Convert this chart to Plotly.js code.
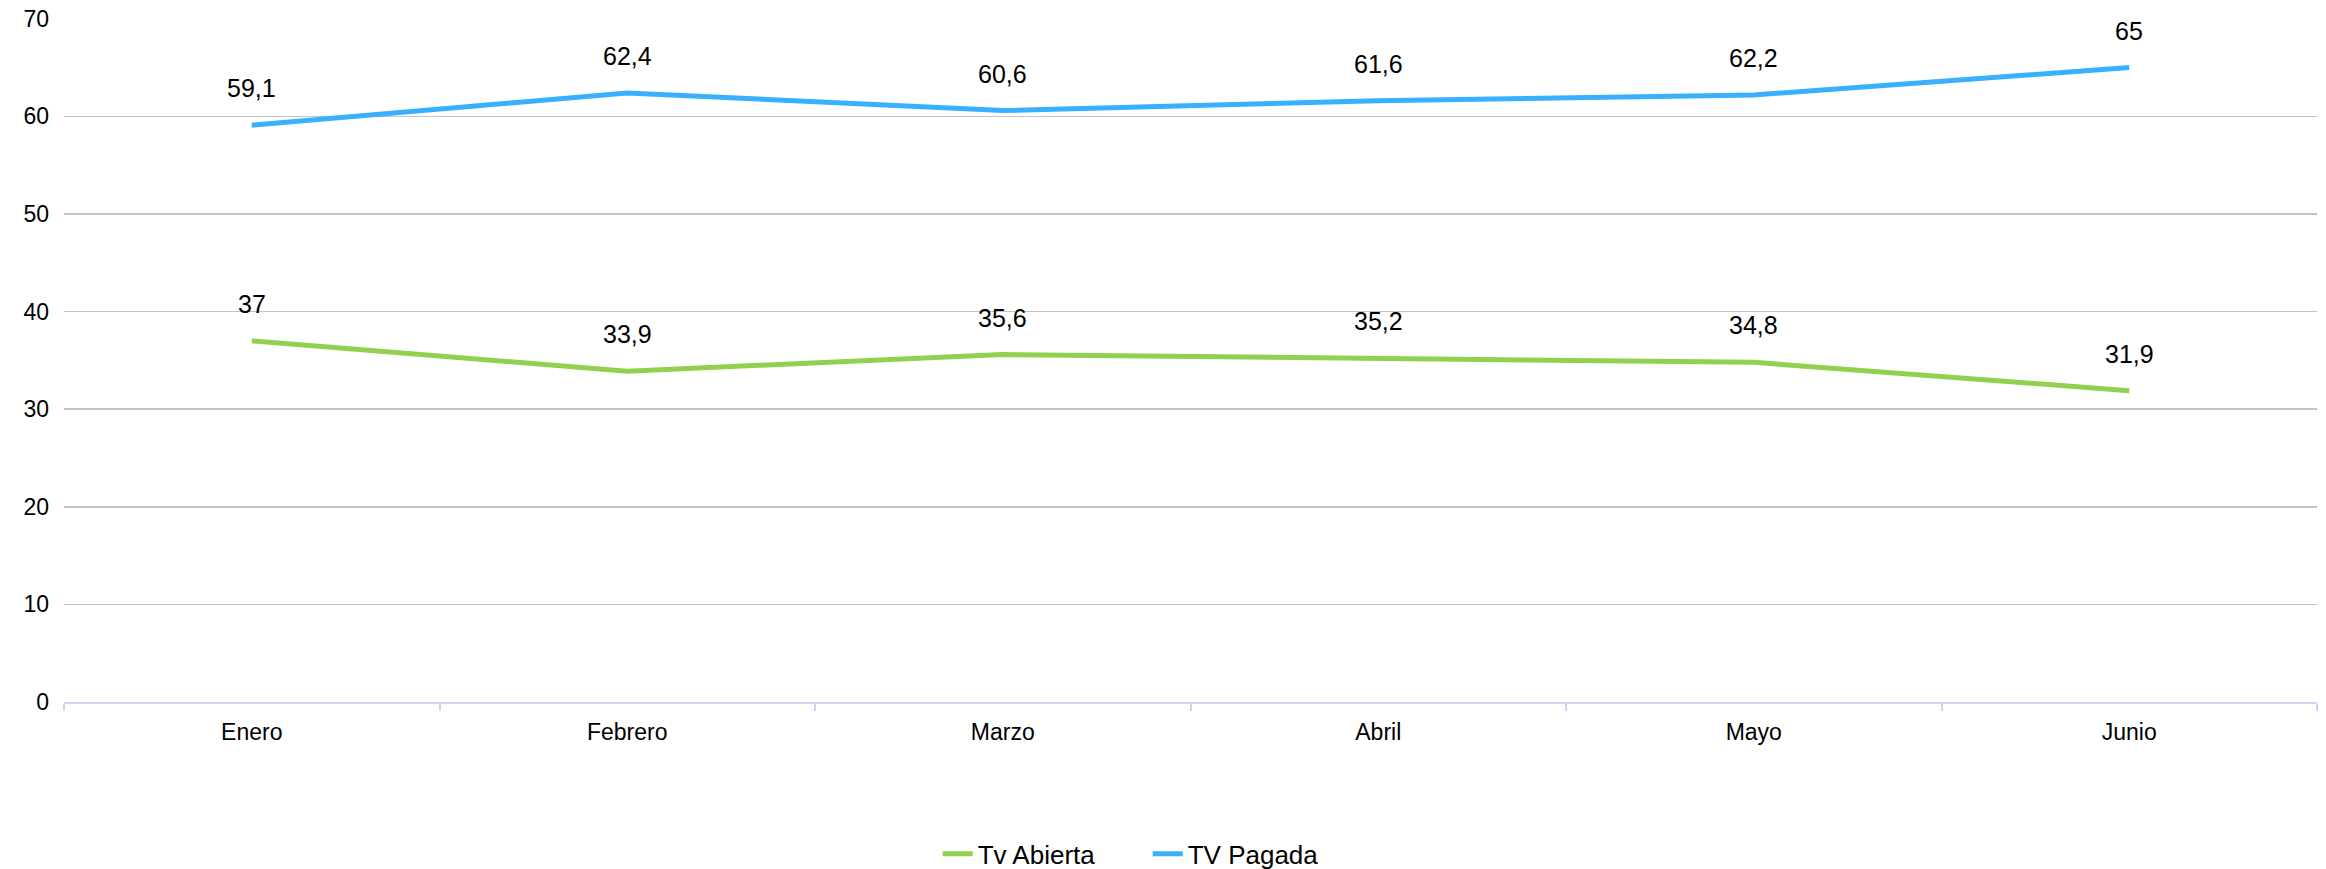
<!DOCTYPE html>
<html>
<head>
<meta charset="utf-8">
<script src="https://cdn.plot.ly/plotly-3.0.1.min.js"></script>
<style>
  html, body { margin: 0; padding: 0; background: #fff; }
  #chart { width: 2326px; height: 869px; }
</style>
</head>
<body>
<div id="chart"></div>
<script>
// Audiencia por mes
const months = ['Enero', 'Febrero', 'Marzo', 'Abril', 'Mayo', 'Junio'];
const tvAbierta = [37, 33.9, 35.6, 35.2, 34.8, 31.9];
const tvPagada = [59.1, 62.4, 60.6, 61.6, 62.2, 65];

const fontFamily = 'Liberation Sans, Arial, sans-serif';

function fmt(v) {
    return String(v).replace('.', ',');
}

function makeTrace(name, values, color) {
    return {
        x: months,
        y: values,
        name: name,
        type: 'scatter',
        mode: 'lines',
        line: { color: color, width: 5 },
        hoverinfo: 'skip'
    };
}

// Data labels sit well above each point, like the original Excel chart
function makeLabels(values) {
    return values.map((v, i) => ({
        x: months[i],
        y: v,
        text: fmt(v),
        showarrow: false,
        yshift: 37,
        font: { family: fontFamily, size: 25, color: '#000' }
    }));
}

const data = [
    makeTrace('Tv Abierta', tvAbierta, '#92d050'),
    makeTrace('TV Pagada', tvPagada, '#38b0fd')
];

const layout = {
    width: 2326,
    height: 869,
    margin: { l: 64, r: 9, t: 18, b: 167, autoexpand: false },
    paper_bgcolor: '#fff',
    plot_bgcolor: '#fff',
    font: { family: fontFamily, size: 23, color: '#000' },
    showlegend: true,
    legend: {
        orientation: 'h',
        x: 0.481,
        xanchor: 'center',
        y: -0.222,
        yanchor: 'middle',
        entrywidth: 165,
        font: { family: fontFamily, size: 26, color: '#000' },
        itemwidth: 30
    },
    xaxis: {
        type: 'category',
        range: [-0.5, months.length - 0.5],
        showline: true,
        linecolor: '#dcc9f7',
        linewidth: 2,
        ticks: 'outside',
        tickson: 'boundaries',
        ticklen: 7,
        tickcolor: '#dcc9f7',
        tickwidth: 2,
        ticklabelstandoff: 8,
        showgrid: false,
        zeroline: false,
        fixedrange: true
    },
    yaxis: {
        range: [0, 70.08],
        tickvals: [0, 10, 20, 30, 40, 50, 60, 70],
        showgrid: true,
        gridcolor: '#c4c4c4',
        gridwidth: 1.5,
        zeroline: false,
        showline: false,
        ticks: '',
        ticklabelstandoff: 14,
        fixedrange: true
    },
    annotations: makeLabels(tvAbierta).concat(makeLabels(tvPagada))
};

Plotly.newPlot('chart', data, layout, { displayModeBar: false, staticPlot: true });
</script>
</body>
</html>
